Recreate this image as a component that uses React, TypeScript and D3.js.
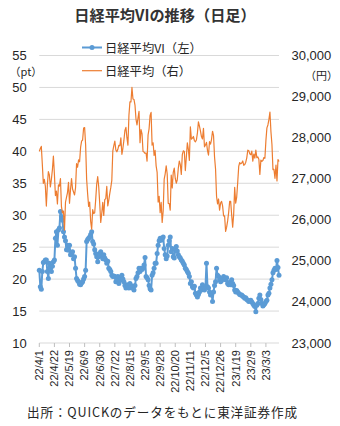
import React from "react";
import * as d3 from "d3";

const viValues: number[] = [
  21.4, 18.8, 18.4, 21.2, 22.6, 22.7, 23.0, 23.0, 21.2, 20.1,
  22.5, 22.0, 21.2, 22.0, 22.7, 23.0, 26.4, 27.4, 25.3, 27.7,
  28.0, 30.6, 29.8, 29.2, 27.4, 26.6, 26.0, 24.6, 25.3, 24.5,
  25.3, 23.8, 24.0, 24.3, 23.2, 23.5, 21.7, 20.1, 19.8, 19.6,
  19.2, 19.1, 19.4, 19.6, 20.0, 20.4, 21.4, 25.9, 26.2, 26.4,
  26.6, 27.0, 27.4, 25.9, 25.5, 24.6, 24.0, 23.5, 22.7, 23.5,
  24.0, 24.3, 23.6, 23.2, 23.8, 23.3, 23.0, 22.5, 22.8, 21.7,
  21.5, 21.2, 20.6, 20.4, 20.5, 20.4, 19.6, 20.0, 20.4, 19.3,
  19.8, 20.2, 20.6, 20.0, 19.6, 19.0, 18.6, 19.1, 19.0, 18.6,
  19.3, 19.0, 18.6, 18.8, 18.3, 19.0, 20.1, 20.4, 21.0, 21.7,
  21.2, 21.7, 21.5, 21.7, 22.2, 23.4, 20.4, 20.2, 19.9, 19.0,
  18.5, 18.3, 20.6, 21.0, 21.7, 22.5, 22.5, 24.0, 25.3, 26.0,
  26.4, 26.1, 26.3, 26.6, 24.8, 23.8, 23.2, 23.6, 25.3, 26.0,
  26.6, 24.3, 24.8, 23.5, 23.3, 24.6, 25.1, 24.4, 23.8, 23.5,
  23.3, 23.0, 22.8, 22.5, 22.2, 21.7, 21.5, 21.2, 20.9, 20.4,
  19.3, 19.6, 18.8, 18.6, 18.9, 17.8, 17.5, 17.2, 17.6, 18.0,
  18.6, 18.3, 19.1, 18.5, 18.3, 18.8, 22.5, 18.8, 18.6, 18.0,
  17.5, 17.8, 16.5, 18.0, 19.0, 19.6, 21.7, 20.6, 20.4, 19.9,
  19.6, 19.8, 20.1, 20.4, 20.0, 19.9, 20.2, 19.3, 19.1, 19.5,
  19.1, 19.9, 19.3, 19.0, 18.3, 18.0, 18.2, 18.0, 17.8, 17.6,
  17.5, 17.5, 17.3, 17.2, 17.0, 17.1, 16.8, 16.7, 16.5, 16.6,
  16.7, 16.4, 16.2, 15.9, 15.7, 14.9, 15.9, 16.2, 17.0, 17.5,
  16.8, 16.2, 15.8, 16.0, 16.2, 16.5, 16.7, 17.5, 17.8, 18.6,
  19.2, 19.9, 21.0, 21.4, 21.7, 21.5, 22.9, 21.8, 20.6,
];

const nikkeiValues: number[] = [
  27665, 27736, 27787, 27350, 26888, 26985, 26821, 26335, 26843, 27172,
  27093, 26799, 26985, 27218, 27553, 27105, 26590, 26700, 26387, 26848,
  26819, 27003, 26319, 26167, 26213, 25748, 26427, 26547, 26659, 26911,
  26402, 26739, 27001, 26748, 26677, 26604, 26781, 27369, 27279, 27457,
  27413, 27761, 27915, 27943, 28234, 28246, 27824, 26987, 26629, 26326,
  26431, 25963, 25771, 26246, 26149, 26171, 26491, 26871, 27049, 26804,
  26393, 25935, 26153, 26423, 26107, 26490, 26517, 26812, 26336, 26478,
  26643, 26788, 26961, 27680, 27803, 27914, 27699, 27655, 27715, 27815,
  27801, 27993, 27594, 27741, 27932, 28175, 28249, 27999, 27819, 28546,
  28871, 28868, 29222, 28942, 28930, 28794, 28452, 28313, 28479, 28641,
  27878, 28195, 28091, 27661, 27650, 27619, 27626, 27430, 28065, 28214,
  28542, 28614, 27818, 27875, 27567, 27688, 27313, 27153, 26431, 26571,
  26173, 26422, 25937, 26215, 26992, 27120, 27311, 27116, 26401, 26397,
  26237, 27090, 26775, 27156, 27257, 27006, 26890, 26974, 27250, 27431,
  27345, 27105, 27587, 27678, 27663, 27199, 27527, 27872, 27716, 27446,
  28263, 27963, 27990, 28028, 27930, 27899, 27944, 28115, 28383, 28283,
  28162, 28027, 27968, 28226, 27777, 27820, 27885, 27686, 27574, 27901,
  27842, 27954, 28156, 28051, 27527, 27237, 26568, 26387, 26507, 26235,
  26405, 26447, 26340, 26093, 26094, 25716, 25820, 25973, 26175, 26446,
  26449, 26119, 25822, 26138, 26791, 26405, 26553, 26906, 27299, 27395,
  27362, 27382, 27433, 27327, 27346, 27402, 27509, 27694, 27685, 27606,
  27584, 27670, 27427, 27602, 27501, 27696, 27513, 27531, 27473, 27104,
  27453, 27423, 27445, 27516, 27498, 27927, 28237, 28309, 28444, 28623,
  28143, 27832, 27222, 27229, 27010, 27333, 26945, 27466, 27419,
];

const tickLabels: string[] = [
  "22/4/1", "22/4/22", "22/5/19", "22/6/9", "22/6/30", "22/7/22", "22/8/15", "22/9/5",
  "22/9/28", "22/10/20", "22/11/11", "22/12/5", "22/12/26", "23/1/19", "23/2/9", "23/3/3",
];
const tickStep = 15;
const leftTicks: number[] = [10, 15, 20, 25, 30, 35, 40, 45, 50, 55];
const rightTicks: number[] = [23000, 24000, 25000, 26000, 27000, 28000, 29000, 30000];

const seriesNames = ["日経平均VI（左）", "日経平均（右）"];
const title = "日経平均VIの推移（日足）";
const source = "出所：QUICKのデータをもとに東洋証券作成";

const BLUE = "#5B9BD5";
const ORANGE = "#ED7D31";
const TEXT = "#262626";
const JP = "'Noto Sans CJK JP', 'Noto Sans', sans-serif";
const NUM = "'Liberation Sans', Arial, sans-serif";

export default function App() {
  const W = 340, H = 426;
  const x0 = 39.3, x1 = 279, yTop = 55.5, yBot = 343;
  const n = viValues.length;
  const x = d3.scaleLinear().domain([0, n - 1]).range([x0, x1]);
  const yL = d3.scaleLinear().domain([10, 55]).range([yBot, yTop]);
  const yR = d3.scaleLinear().domain([23000, 30000]).range([yBot, yTop]);

  const viLine = d3.line<number>().x((_, i) => x(i)).y((d) => yL(d));
  const nkLine = d3.line<number>().x((_, i) => x(i)).y((d) => yR(d));

  return (
    <svg width={W} height={H} style={{ position: "absolute", left: 0, top: 0, background: "#fff" }}>
      <rect x={0} y={0} width={W} height={H} fill="#fff" />
      <text x={165} y={14} textAnchor="middle" dominantBaseline="central" fontFamily={JP} fontWeight="bold" fontSize={15.2} fill="#333333">
        {title}
      </text>

      {leftTicks.map((t) => (
        <line key={"g" + t} x1={x0} x2={x1} y1={yL(t)} y2={yL(t)} stroke="#D9D9D9" strokeWidth={1} />
      ))}
      {tickLabels.map((lab, i) => (
        <line key={"tk" + i} x1={x(i * tickStep)} x2={x(i * tickStep)} y1={yBot} y2={yBot + 4} stroke="#BFBFBF" strokeWidth={1} />
      ))}

      {leftTicks.map((t) => (
        <text key={"l" + t} x={26.7} y={yL(t)} textAnchor="end" dominantBaseline="central" fontFamily={NUM} fontSize={13} fill={TEXT}>
          {t}
        </text>
      ))}
      {rightTicks.map((t) => (
        <text key={"r" + t} x={291.5} y={yR(t)} textAnchor="start" dominantBaseline="central" fontFamily={NUM} fontSize={13} fill={TEXT}>
          {d3.format(",")(t)}
        </text>
      ))}
      <text x={26} y={71} textAnchor="middle" dominantBaseline="central" fontFamily={JP} fontSize={11} fill={TEXT}>（pt）</text>
      <text x={321.5} y={75} textAnchor="middle" dominantBaseline="central" fontFamily={JP} fontSize={11} fill={TEXT}>（円）</text>

      {tickLabels.map((lab, i) => {
        const tx = x(i * tickStep);
        const ty = 350;
        return (
          <text key={"xl" + i} x={tx} y={ty} transform={`rotate(-90, ${tx}, ${ty})`} textAnchor="end" dy="0.35em" fontFamily={NUM} fontSize={11} fill={TEXT}>
            {lab}
          </text>
        );
      })}

      <path d={viLine(viValues) || ""} fill="none" stroke={BLUE} strokeWidth={2} strokeLinejoin="round" />
      {viValues.map((v, i) => (
        <circle key={"c" + i} cx={x(i)} cy={yL(v)} r={2.5} fill={BLUE} />
      ))}
      <path d={nkLine(nikkeiValues) || ""} fill="none" stroke={ORANGE} strokeWidth={1.2} strokeLinejoin="round" />

      <line x1={82} x2={102} y1={47.5} y2={47.5} stroke={BLUE} strokeWidth={2} />
      <circle cx={92} cy={47.5} r={2.5} fill={BLUE} />
      <text x={105} y={47.5} dominantBaseline="central" fontFamily={JP} fontSize={12.3} fill={TEXT}>{seriesNames[0]}</text>
      <line x1={82} x2={102} y1={70.7} y2={70.7} stroke={ORANGE} strokeWidth={1.2} />
      <text x={105} y={70.7} dominantBaseline="central" fontFamily={JP} fontSize={12.3} fill={TEXT}>{seriesNames[1]}</text>

      <text x={27} y={411.5} dominantBaseline="central" fontFamily={JP} fontSize={12.6} letterSpacing={0.85} fill={TEXT}>{source}</text>
    </svg>
  );
}
